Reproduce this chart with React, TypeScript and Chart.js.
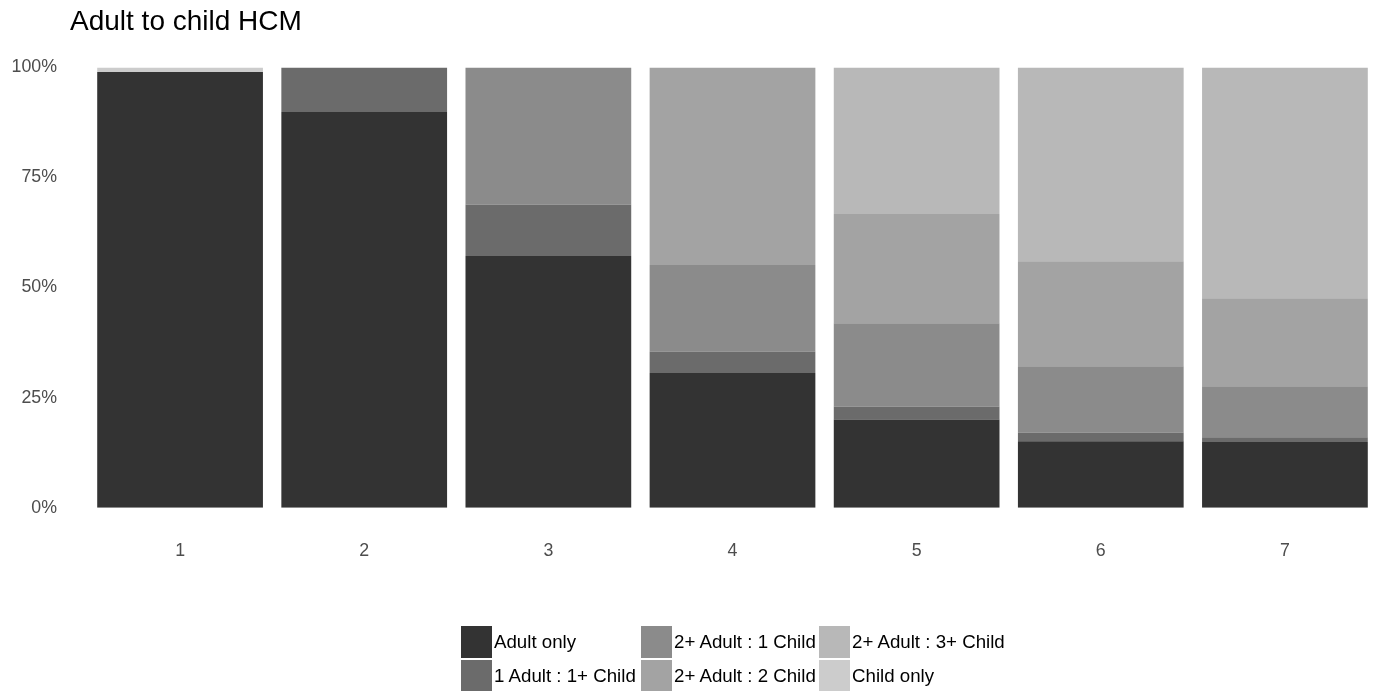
import React, { useEffect, useRef } from "react";
import { Chart, registerables } from "chart.js";

Chart.register(...registerables);

const categories = ["1", "2", "3", "4", "5", "6", "7"];
const seriesNames = [
  "Adult only",
  "1 Adult : 1+ Child",
  "2+ Adult : 1 Child",
  "2+ Adult : 2 Child",
  "2+ Adult : 3+ Child",
  "Child only",
];
const adultOnly = [99.0, 89.9, 57.2, 30.6, 20.0, 15.1, 14.9];
const oneAdult = [0, 10.1, 11.7, 4.9, 3.0, 2.0, 1.1];
const twoPlusOneChild = [0, 0, 31.1, 19.6, 18.9, 15.0, 11.6];
const twoPlusTwoChild = [0, 0, 0, 44.9, 24.8, 23.9, 20.0];
const twoPlusThreeChild = [0, 0, 0, 0, 33.3, 44.0, 52.4];
const childOnly = [1.0, 0, 0, 0, 0, 0, 0];
const yTicks = [0, 25, 50, 75, 100];
const colors = ["#333333", "#6b6b6b", "#8b8b8b", "#a3a3a3", "#b8b8b8", "#cccccc"];
const seriesValues = [adultOnly, oneAdult, twoPlusOneChild, twoPlusTwoChild, twoPlusThreeChild, childOnly];
const legendOrder = [0, 2, 4, 1, 3, 5];

const FONT = "'Liberation Sans', Arial, sans-serif";

const titlePlugin = {
  id: "customTitle",
  afterDraw(chart: any) {
    const ctx = chart.ctx;
    ctx.save();
    ctx.font = `28px ${FONT}`;
    ctx.fillStyle = "#000000";
    ctx.textAlign = "left";
    ctx.textBaseline = "alphabetic";
    ctx.fillText("Adult to child HCM", 70, 30);
    ctx.restore();
  },
};

export default function App() {
  const ref = useRef<HTMLCanvasElement>(null);

  useEffect(() => {
    if (!ref.current) return;
    const chart = new Chart(ref.current, {
      type: "bar",
      data: {
        labels: categories,
        datasets: seriesNames.map((name, i) => ({
          label: name,
          data: seriesValues[i],
          backgroundColor: colors[i],
          borderWidth: 0,
          categoryPercentage: 0.9,
          barPercentage: 1.0,
        })),
      },
      options: {
        animation: false,
        responsive: false,
        maintainAspectRatio: false,
        layout: { padding: { top: 67.5, right: 0, bottom: 96, left: 0 } },
        plugins: {
          legend: { display: false },
          title: { display: false },
          tooltip: { enabled: false },
        },
        scales: {
          x: {
            stacked: true,
            grid: { display: false, drawTicks: false },
            border: { display: false },
            ticks: { color: "#4d4d4d", font: { family: FONT, size: 17.8 }, padding: 33 },
          },
          y: {
            stacked: true,
            min: 0,
            max: 100,
            afterFit: (scale: any) => {
              scale.width = 88;
            },
            afterBuildTicks: (scale: any) => {
              scale.ticks = yTicks.map((v) => ({ value: v }));
            },
            grid: { display: false, drawTicks: false },
            border: { display: false },
            ticks: {
              color: "#4d4d4d",
              font: { family: FONT, size: 17.8 },
              padding: 31,
              callback: (v: any) => `${v}%`,
            },
          },
        },
      },
      plugins: [titlePlugin],
    });
    return () => chart.destroy();
  }, []);

  const colLeft = [461, 641, 819];
  const rowTop = [626, 660];

  return (
    <div style={{ position: "absolute", left: 0, top: 0, width: 1377, height: 691, background: "#ffffff", overflow: "hidden" }}>
      <canvas ref={ref} width={1377} height={691} style={{ position: "absolute", left: 0, top: 0, width: 1377, height: 691 }} />
      {legendOrder.map((si, k) => {
        const col = k % 3;
        const row = Math.floor(k / 3);
        return (
          <div
            key={si}
            style={{
              position: "absolute",
              left: colLeft[col],
              top: rowTop[row],
              height: 32,
              display: "flex",
              alignItems: "center",
              fontFamily: FONT,
              fontSize: 18.7,
              color: "#000000",
              whiteSpace: "nowrap",
            }}
          >
            <span style={{ display: "inline-block", width: 31, height: 32, background: colors[si], marginRight: 2 }} />
            <span>{seriesNames[si]}</span>
          </div>
        );
      })}
    </div>
  );
}
